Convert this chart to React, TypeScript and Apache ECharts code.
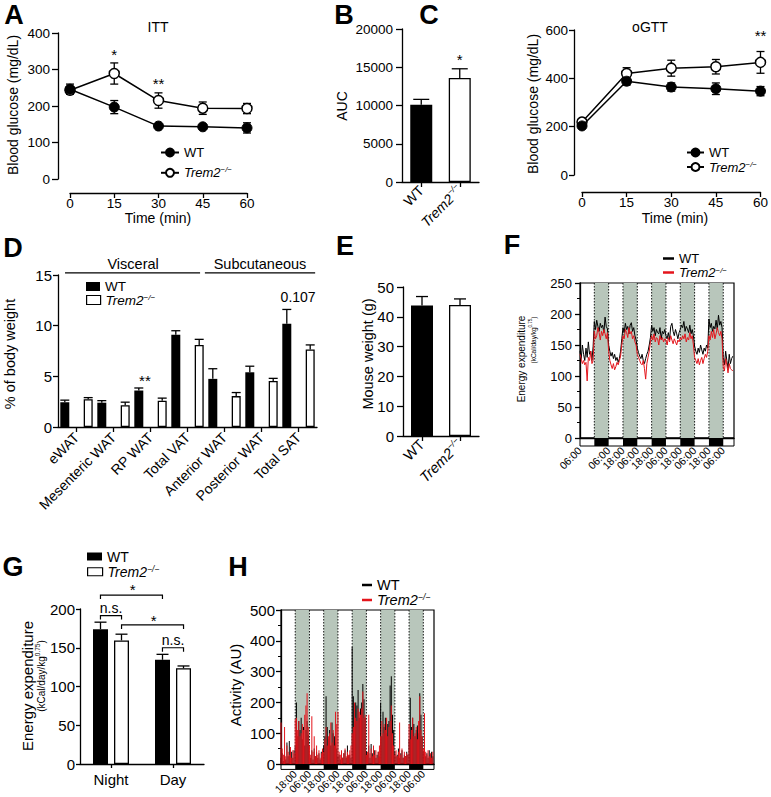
import React, { useEffect, useRef } from 'react';
import * as echarts from 'echarts';

const FONT = '"Liberation Sans", Arial, Helvetica, sans-serif';
const BLACK = '#000';
const RED = '#e4151c';
const NIGHT_GRAY = '#b8c6bb';
const LW = 1.3;

// ---------- A: ITT ----------
const ittTime = [0, 15, 30, 45, 60];
const ittWT = [246, 197, 145, 143, 140];
const ittWTErr = [14, 18, 5, 5, 14];
const ittKO = [243, 289, 215, 194, 193];
const ittKOErr = [8, 29, 21, 17, 14];
const ittSig = [{ x: 15, y: 340, t: '*' }, { x: 30, y: 263, t: '**' }];

// ---------- B: AUC ----------
const groups = ['WT', 'Trem2'];
const aucValues = [10100, 13600];
const aucErr = [700, 1200];
const aucSig = [{ x: 1, y: 15950, t: '*' }];

// ---------- C: oGTT ----------
const gttTime = [0, 15, 30, 45, 60];
const gttWT = [203, 388, 364, 357, 347];
const gttWTErr = [6, 16, 17, 24, 19];
const gttKO = [219, 420, 442, 448, 466];
const gttKOErr = [6, 24, 33, 30, 45];
const gttSig = [{ x: 60, y: 578, t: '**' }];

// ---------- D: fat depots ----------
const depots = ['eWAT', 'Mesenteric WAT', 'RP WAT', 'Total VAT', 'Anterior WAT', 'Posterior WAT', 'Total SAT'];
const depotWT = [2.45, 2.4, 3.6, 9.1, 4.75, 5.4, 10.2];
const depotWTErr = [0.2, 0.2, 0.25, 0.4, 1.0, 0.6, 1.4];
const depotKO = [2.75, 2.15, 2.6, 8.1, 3.05, 4.55, 7.65];
const depotKOErr = [0.15, 0.3, 0.25, 0.55, 0.35, 0.25, 0.45];
const depotSig = [
  { x: 1.85, y: 4.6, t: '**' },
  { x: 5.99, y: 12.8, t: '0.107', size: 14 },
  { x: -0.31, x2: 3.34, y: 15.2 },
  { x: 3.47, x2: 6.45, y: 15.2 },
  { x: 1.53, y: 16.1, t: 'Visceral', size: 14.5 },
  { x: 4.96, y: 16.1, t: 'Subcutaneous', size: 14.5 },
];

// ---------- E: body weight ----------
const weightValues = [43.8, 44.0];
const weightErr = [3.0, 2.0];

// ---------- G: energy expenditure by period ----------
const periods = ['Night', 'Day'];
const eeWT = [174, 134.5];
const eeWTErr = [9, 7];
const eeKO = [159.5, 123.5];
const eeKOErr = [8, 3];
const eeSig = [
  { x: -0.17, x2: 0.17, y: 191.5, drop: 4 },
  { x: 0, y: 201, t: 'n.s.', size: 14 },
  { x: -0.17, x2: 0.83, y: 218, drop: 4 },
  { x: 0.35, y: 225, t: '*' },
  { x: 0.17, x2: 1.17, y: 179.5, drop: 4 },
  { x: 0.69, y: 185, t: '*' },
  { x: 0.83, x2: 1.17, y: 150, drop: 4 },
  { x: 1, y: 160, t: 'n.s.', size: 14 },
];

// ---------- F / H: hourly time courses (t = hours from 06:00) ----------
const nights = [[12, 24], [36, 48], [60, 72], [84, 96], [108, 120]];
const clockLabels = ['06:00', '18:00'];
const eeHourlyWT = [
  140, 128, 150, 135, 125, 145, 130, 155, 135, 140, 125, 148,
  188, 175, 190, 180, 172, 185, 178, 182, 170, 195, 180, 176,
  150, 140, 132, 138, 128, 135, 125, 130, 122, 128, 140, 160,
  178, 170, 185, 175, 180, 168, 182, 186, 172, 178, 165, 158,
  145, 138, 132, 128, 135, 125, 120, 128, 135, 140, 150, 162,
  182, 172, 178, 165, 175, 170, 168, 178, 160, 172, 168, 175,
  165, 160, 170, 158, 180, 185, 172, 165, 175, 168, 160, 170,
  175, 182, 178, 188, 172, 180, 176, 170, 182, 168, 175, 165,
  148, 140, 135, 145, 138, 150, 142, 135, 145, 140, 150, 145,
  192, 178, 185, 172, 180, 176, 190, 175, 198, 182, 188, 178,
  130, 118, 140, 125, 112, 135, 120, 128, 132,
];
const eeHourlyKO = [
  135, 128, 120, 125, 118, 122, 92, 130, 125, 140, 120, 125,
  172, 160, 165, 178, 170, 158, 172, 165, 175, 168, 160, 170,
  140, 125, 118, 112, 120, 110, 115, 122, 118, 125, 132, 150,
  165, 160, 175, 170, 162, 178, 168, 172, 160, 165, 155, 150,
  135, 130, 125, 120, 118, 125, 112, 95, 120, 130, 140, 155,
  165, 158, 168, 155, 162, 160, 150, 165, 158, 162, 155, 160,
  158, 150, 162, 155, 165, 158, 152, 160, 155, 150, 158, 155,
  162, 158, 165, 160, 168, 155, 162, 158, 170, 160, 165, 150,
  130, 125, 120, 128, 118, 125, 130, 120, 128, 135, 130, 140,
  165, 158, 172, 162, 175, 160, 168, 178, 170, 165, 172, 160,
  115, 108, 128, 118, 105, 120, 112, 110, 108,
];
const actHourlyWT = [
  20, 35, 10, 30, 15, 70, 25, 75, 10, 40, 20, 45,
  60, 200, 90, 140, 110, 150, 80, 120, 60, 110, 140, 95,
  30, 20, 45, 15, 50, 25, 40, 20, 35, 15, 40, 30,
  60, 90, 220, 120, 80, 110, 60, 135, 100, 90, 70, 50,
  25, 30, 15, 40, 20, 35, 45, 20, 60, 25, 30, 20,
  380, 220, 140, 200, 190, 240, 150, 180, 200, 260, 210, 150,
  40, 30, 60, 20, 65, 35, 25, 45, 20, 30, 40, 25,
  200, 90, 170, 120, 150, 100, 130, 140, 255, 285, 160, 110,
  40, 25, 30, 50, 20, 35, 45, 20, 30, 25, 40, 30,
  80, 215, 120, 150, 130, 90, 110, 125, 100, 230, 160, 90,
  40, 30, 25, 35, 20, 45, 30, 40, 25,
];
const actHourlyKO = [
  135, 50, 30, 120, 25, 60, 40, 30, 55, 20, 45, 35,
  145, 150, 110, 140, 90, 100, 130, 110, 160, 190, 230, 120,
  60, 30, 155, 40, 90, 25, 60, 30, 45, 20, 35, 50,
  40, 80, 120, 60, 90, 100, 135, 70, 110, 60, 170, 130,
  170, 40, 30, 45, 20, 35, 50, 25, 40, 30, 45, 60,
  100, 120, 200, 150, 140, 180, 170, 160, 180, 235, 150, 160,
  30, 40, 160, 35, 50, 25, 60, 30, 45, 20, 40, 60,
  90, 140, 100, 130, 110, 150, 90, 120, 140, 190, 100, 60,
  30, 45, 25, 40, 135, 30, 50, 20, 40, 25, 35, 30,
  130, 80, 110, 150, 90, 100, 120, 80, 140, 220, 110, 90,
  50, 165, 40, 30, 45, 25, 35, 20, 40,
];

// ---------- helpers ----------
const KO_RICH = '{i|Trem2}{s|−/−}';
function rich(size: number, lh?: number) {
  const l = lh ?? size * 1.2;
  return {
    n: { fontSize: size, fontFamily: FONT, color: BLACK, lineHeight: l },
    i: { fontSize: size, fontFamily: FONT, color: BLACK, fontStyle: 'italic', lineHeight: l },
    s: { fontSize: size * 0.6, fontFamily: FONT, color: BLACK, fontStyle: 'italic', verticalAlign: 'top', lineHeight: l },
  };
}
const koFmt = (v: string) => (v === 'WT' || v.endsWith('WT') ? '{n|WT}' : KO_RICH);

function valueAxis(grid: number, min: number, max: number, interval: number, o: any = {}) {
  return {
    type: 'value', gridIndex: grid, min, max, interval, show: o.show !== false,
    offset: o.offset ?? 0,
    axisLine: { show: o.line !== false, onZero: false, lineStyle: { color: BLACK, width: LW } },
    axisTick: { show: o.ticks !== false, length: o.tick ?? 5, lineStyle: { color: BLACK, width: LW } },
    minorTick: o.minor ? { show: true, splitNumber: 2, length: 3, lineStyle: { color: BLACK, width: 1 } } : { show: false },
    axisLabel: {
      show: o.labels !== false, fontSize: o.fontSize ?? 13.5, color: BLACK, fontFamily: FONT,
      margin: o.margin ?? 8, rotate: o.rotate ?? 0, formatter: o.formatter ?? ((v: number) => String(v)),
      showMinLabel: true, hideOverlap: false,
    },
    splitLine: { show: false },
  };
}
function catAxis(grid: number, data: string[], o: any = {}) {
  const label: any = {
    interval: 0, rotate: o.rotate ?? 0, fontSize: o.fontSize ?? 14, fontFamily: FONT, color: BLACK,
    margin: o.margin ?? 6,
  };
  if (o.formatter) label.formatter = o.formatter;
  if (o.rich) label.rich = o.rich;
  return {
    type: 'category', gridIndex: grid, data,
    axisLine: { show: true, onZero: false, lineStyle: { color: BLACK, width: LW } },
    axisTick: { show: true, alignWithLabel: true, length: o.tick ?? 5, lineStyle: { color: BLACK, width: LW } },
    axisLabel: label,
    splitLine: { show: false },
  };
}

function errSeries(xi: number, yi: number, data: number[][], o: { offset?: number; cap: number; up?: boolean }) {
  return {
    type: 'custom', xAxisIndex: xi, yAxisIndex: yi, clip: false, silent: true, z: 3,
    data,
    renderItem: (params: any, api: any) => {
      const x = api.value(0), v = api.value(1), e = api.value(2);
      const top = api.coord([x, v + e]);
      const bot = api.coord([x, o.up ? v : v - e]);
      const cx = top[0] + (o.offset ?? 0);
      const hw = o.cap / 2;
      const st = { stroke: BLACK, lineWidth: LW };
      const children: any[] = [
        { type: 'line', shape: { x1: cx, y1: top[1], x2: cx, y2: bot[1] }, style: st },
        { type: 'line', shape: { x1: cx - hw, y1: top[1], x2: cx + hw, y2: top[1] }, style: st },
      ];
      if (!o.up) children.push({ type: 'line', shape: { x1: cx - hw, y1: bot[1], x2: cx + hw, y2: bot[1] }, style: st });
      return { type: 'group', children };
    },
  };
}

type Ann = { x: number; y: number; x2?: number; drop?: number; t?: string; size?: number };
function annSeries(xi: number, yi: number, items: Ann[], cat: boolean) {
  return {
    type: 'custom', xAxisIndex: xi, yAxisIndex: yi, clip: false, silent: true, z: 6,
    data: items.map((it) => [cat ? 0 : it.x, it.y]),
    renderItem: (params: any, api: any) => {
      const it = items[params.dataIndex];
      const pos = (x: number, y: number) => {
        if (cat) {
          const p = api.coord([0, y]);
          const w = api.size([1, 0])[0];
          return [p[0] + x * w, p[1]];
        }
        return api.coord([x, y]);
      };
      if (it.x2 !== undefined) {
        const a = pos(it.x, it.y), b = pos(it.x2, it.y);
        const d = it.drop ?? 0;
        return {
          type: 'polyline',
          shape: { points: [[a[0], a[1] + d], a, b, [b[0], b[1] + d]] },
          style: { stroke: BLACK, lineWidth: 1.2, fill: null },
        };
      }
      const p = pos(it.x, it.y);
      return {
        type: 'text', x: p[0], y: p[1],
        style: { text: it.t, fontSize: it.size ?? 15, fontFamily: FONT, fill: BLACK, align: 'center', verticalAlign: 'middle' },
      };
    },
  };
}

function bandSeries(xi: number, yi: number, fill: string, dotted: boolean) {
  return {
    type: 'custom', xAxisIndex: xi, yAxisIndex: yi, silent: true, z: 1, clip: true,
    data: nights.map((n) => [n[0], n[1]]),
    renderItem: (params: any, api: any) => {
      const cs = params.coordSys;
      const x1 = api.coord([api.value(0), 0])[0];
      const x2 = api.coord([api.value(1), 0])[0];
      const children: any[] = [{ type: 'rect', shape: { x: x1, y: cs.y, width: x2 - x1, height: cs.height }, style: { fill } }];
      if (dotted) {
        for (const x of [x1, x2]) {
          children.push({ type: 'line', shape: { x1: x, y1: cs.y, x2: x, y2: cs.y + cs.height }, style: { stroke: BLACK, lineWidth: 0.9, lineDash: [1.5, 1.5] } });
        }
      }
      return { type: 'group', children };
    },
  };
}

const clockFmt = (skipFirst: boolean) => (v: number) => {
  if (v % 12 !== 0) return '';
  if (skipFirst && v === 0) return '';
  return clockLabels[Math.round(v / 12) % 2];
};

function legendItem(name: string, left: number, top: number, o: any) {
  const l: any = {
    data: [name], left, top, padding: 0, itemGap: 0, selectedMode: false,
    itemWidth: o.w, itemHeight: o.h,
    formatter: koFmt,
    textStyle: { fontSize: o.size, fontFamily: FONT, color: BLACK, rich: rich(o.size, o.lh) },
  };
  if (o.icon) l.icon = o.icon;
  if (o.itemStyle) l.itemStyle = o.itemStyle;
  return l;
}

function T(x: number, y: number, text: string, size: number, o: any = {}) {
  const style: any = {
    text, fontSize: size, fontFamily: FONT, fontWeight: o.bold ? 'bold' : 'normal', fill: BLACK,
    align: 'center', verticalAlign: 'middle',
  };
  if (o.rich) style.rich = o.rich;
  if (o.lineHeight) style.lineHeight = o.lineHeight;
  return { type: 'text', x, y, rotation: o.rot ?? 0, silent: true, z: 10, style };
}

const whiteBar = { color: '#fff', borderColor: BLACK, borderWidth: LW };
const blackBar = { color: BLACK };

function buildOption(): any {
  const R = Math.PI / 2;
  const supRich = (s: number) => ({ sup: { fontSize: s, fontFamily: FONT, verticalAlign: 'top', lineHeight: s * 2.2 } });
  return {
    animation: false,
    backgroundColor: '#fff',
    textStyle: { fontFamily: FONT, color: BLACK },
    grid: [
      { left: 70, top: 33, width: 177, height: 146 }, // A
      { left: 402, top: 29, width: 77, height: 153 }, // B
      { left: 582, top: 30, width: 181, height: 145 }, // C
      { left: 58, top: 275, width: 259, height: 152 }, // D
      { left: 403, top: 287, width: 76, height: 149 }, // E
      { left: 580, top: 283, width: 154, height: 155, show: true, borderColor: BLACK, borderWidth: 1.2 }, // F
      { left: 580, top: 438, width: 154, height: 8, show: true, borderColor: BLACK, borderWidth: 1, backgroundColor: '#fff' }, // F strip
      { left: 80, top: 609, width: 124, height: 155 }, // G
      { left: 281, top: 610, width: 153, height: 154, show: true, borderColor: BLACK, borderWidth: 1.2 }, // H
      { left: 281, top: 764, width: 153, height: 8, show: true, borderColor: BLACK, borderWidth: 1, backgroundColor: '#fff' }, // H strip
    ],
    xAxis: [
      valueAxis(0, 0, 60, 15, { offset: 14, margin: 3, tick: 5 }),
      catAxis(1, groups, { rotate: 45, formatter: koFmt, rich: rich(14), margin: 6 }),
      valueAxis(2, 0, 60, 15, { offset: 17, margin: 3, tick: 5 }),
      catAxis(3, depots, { rotate: 45, fontSize: 14, margin: 8 }),
      catAxis(4, groups, { rotate: 45, formatter: koFmt, rich: rich(14.5), margin: 6 }),
      valueAxis(5, 0, 129, 12, { labels: false, ticks: false }),
      valueAxis(6, 0, 129, 12, { line: false, ticks: false, rotate: 45, fontSize: 10.5, margin: 3, formatter: clockFmt(false) }),
      catAxis(7, periods, { fontSize: 15, margin: 8, tick: 4 }),
      valueAxis(8, 0, 129, 12, { labels: false, ticks: false }),
      valueAxis(9, 0, 129, 12, { line: false, ticks: false, rotate: 45, fontSize: 10.5, margin: 3, formatter: clockFmt(true) }),
    ],
    yAxis: [
      valueAxis(0, 0, 400, 100, { offset: 12, margin: 8, tick: 6 }),
      valueAxis(1, 0, 20000, 5000, { margin: 9, tick: 6 }),
      valueAxis(2, 0, 600, 200, { offset: 8, margin: 6, tick: 5 }),
      valueAxis(3, 0, 15, 5, { fontSize: 15, margin: 6, tick: 5 }),
      valueAxis(4, 0, 50, 10, { fontSize: 15, margin: 9, tick: 6 }),
      valueAxis(5, 0, 250, 50, { fontSize: 13, margin: 8, tick: 5, minor: true }),
      valueAxis(6, 0, 1, 1, { show: false }),
      valueAxis(7, 0, 200, 50, { fontSize: 15, margin: 5, tick: 4 }),
      valueAxis(8, 0, 500, 100, { fontSize: 15, margin: 6, tick: 5, minor: true }),
      valueAxis(9, 0, 1, 1, { show: false }),
    ],
    legend: [
      legendItem('A_WT', 160, 146, { w: 18, h: 10, size: 13 }),
      legendItem('A_KO', 160, 165, { w: 18, h: 10, size: 13 }),
      legendItem('C_WT', 686, 146, { w: 17, h: 10, size: 13, lh: 14 }),
      legendItem('C_KO', 686, 160, { w: 17, h: 10, size: 13, lh: 14 }),
      legendItem('D_WT', 86, 279.5, { w: 14, h: 9, size: 13.5, lh: 13, icon: 'rect', itemStyle: { color: BLACK, borderWidth: 0 } }),
      legendItem('D_KO', 86, 293, { w: 14, h: 9, size: 13.5, lh: 13, icon: 'rect', itemStyle: { color: '#fff', borderColor: BLACK, borderWidth: 1.2 } }),
      legendItem('F_WT', 663, 252, { w: 11, h: 2.5, size: 13, lh: 13, icon: 'rect', itemStyle: { color: BLACK, borderWidth: 0 } }),
      legendItem('F_KO', 663, 266, { w: 11, h: 2.5, size: 13, lh: 13, icon: 'rect', itemStyle: { color: RED, borderWidth: 0 } }),
      legendItem('G_WT', 87, 549.5, { w: 15, h: 8, size: 14, lh: 14.5, icon: 'rect', itemStyle: { color: BLACK, borderWidth: 0 } }),
      legendItem('G_KO', 87, 564.5, { w: 15, h: 8, size: 14, lh: 14.5, icon: 'rect', itemStyle: { color: '#fff', borderColor: BLACK, borderWidth: 1.2 } }),
      legendItem('H_WT', 362, 577.5, { w: 10, h: 2.5, size: 14.5, lh: 14.5, icon: 'rect', itemStyle: { color: BLACK, borderWidth: 0 } }),
      legendItem('H_KO', 362, 592.5, { w: 10, h: 2.5, size: 14.5, lh: 14.5, icon: 'rect', itemStyle: { color: RED, borderWidth: 0 } }),
    ],
    series: [
      // ---- A ----
      errSeries(0, 0, ittTime.map((t, i) => [t, ittKO[i], ittKOErr[i]]), { cap: 8 }),
      errSeries(0, 0, ittTime.map((t, i) => [t, ittWT[i], ittWTErr[i]]), { cap: 8 }),
      {
        type: 'line', name: 'A_KO', xAxisIndex: 0, yAxisIndex: 0, z: 4,
        data: ittTime.map((t, i) => [t, ittKO[i]]),
        symbol: 'circle', symbolSize: 10, lineStyle: { color: BLACK, width: 1.5 },
        itemStyle: { color: '#fff', borderColor: BLACK, borderWidth: 1.5 },
      },
      {
        type: 'line', name: 'A_WT', xAxisIndex: 0, yAxisIndex: 0, z: 5,
        data: ittTime.map((t, i) => [t, ittWT[i]]),
        symbol: 'circle', symbolSize: 10, lineStyle: { color: BLACK, width: 1.5 },
        itemStyle: { color: BLACK, borderColor: BLACK, borderWidth: 1 },
      },
      annSeries(0, 0, ittSig, false),
      // ---- B ----
      {
        type: 'bar', xAxisIndex: 1, yAxisIndex: 1, barWidth: 22, z: 2,
        data: aucValues.map((v, i) => ({ value: v, itemStyle: i === 0 ? blackBar : whiteBar })),
      },
      errSeries(1, 1, aucValues.map((v, i) => [i, v, aucErr[i]]), { cap: 16, up: true }),
      annSeries(1, 1, aucSig, true),
      // ---- C ----
      errSeries(2, 2, gttTime.map((t, i) => [t, gttKO[i], gttKOErr[i]]), { cap: 8 }),
      errSeries(2, 2, gttTime.map((t, i) => [t, gttWT[i], gttWTErr[i]]), { cap: 8 }),
      {
        type: 'line', name: 'C_KO', xAxisIndex: 2, yAxisIndex: 2, z: 4,
        data: gttTime.map((t, i) => [t, gttKO[i]]),
        symbol: 'circle', symbolSize: 10, lineStyle: { color: BLACK, width: 1.5 },
        itemStyle: { color: '#fff', borderColor: BLACK, borderWidth: 1.5 },
      },
      {
        type: 'line', name: 'C_WT', xAxisIndex: 2, yAxisIndex: 2, z: 5,
        data: gttTime.map((t, i) => [t, gttWT[i]]),
        symbol: 'circle', symbolSize: 10, lineStyle: { color: BLACK, width: 1.5 },
        itemStyle: { color: BLACK, borderColor: BLACK, borderWidth: 1 },
      },
      annSeries(2, 2, gttSig, false),
      // ---- D ----
      { type: 'bar', name: 'D_WT', xAxisIndex: 3, yAxisIndex: 3, barWidth: 9, barGap: '160%', z: 2, itemStyle: blackBar, data: depotWT },
      { type: 'bar', name: 'D_KO', xAxisIndex: 3, yAxisIndex: 3, barWidth: 9, barGap: '160%', z: 2, itemStyle: whiteBar, data: depotKO },
      errSeries(3, 3, depotWT.map((v, i) => [i, v, depotWTErr[i]]), { cap: 9, up: true, offset: -11.7 }),
      errSeries(3, 3, depotKO.map((v, i) => [i, v, depotKOErr[i]]), { cap: 9, up: true, offset: 11.7 }),
      annSeries(3, 3, depotSig, true),
      // ---- E ----
      {
        type: 'bar', xAxisIndex: 4, yAxisIndex: 4, barWidth: 22, z: 2,
        data: weightValues.map((v, i) => ({ value: v, itemStyle: i === 0 ? blackBar : whiteBar })),
      },
      errSeries(4, 4, weightValues.map((v, i) => [i, v, weightErr[i]]), { cap: 12, up: true }),
      // ---- F ----
      bandSeries(5, 5, NIGHT_GRAY, true),
      {
        type: 'line', name: 'F_WT', xAxisIndex: 5, yAxisIndex: 5, z: 3, symbol: 'none',
        lineStyle: { color: BLACK, width: 1 }, itemStyle: { color: BLACK },
        data: eeHourlyWT.map((v, i) => [i, v]),
      },
      {
        type: 'line', name: 'F_KO', xAxisIndex: 5, yAxisIndex: 5, z: 4, symbol: 'none',
        lineStyle: { color: RED, width: 1 }, itemStyle: { color: RED },
        data: eeHourlyKO.map((v, i) => [i, v]),
      },
      bandSeries(6, 6, BLACK, false),
      // ---- G ----
      { type: 'bar', name: 'G_WT', xAxisIndex: 7, yAxisIndex: 7, barWidth: 15, barGap: '40%', z: 2, itemStyle: blackBar, data: eeWT },
      { type: 'bar', name: 'G_KO', xAxisIndex: 7, yAxisIndex: 7, barWidth: 15, barGap: '40%', z: 2, itemStyle: whiteBar, data: eeKO },
      errSeries(7, 7, eeWT.map((v, i) => [i, v, eeWTErr[i]]), { cap: 12, up: true, offset: -10.5 }),
      errSeries(7, 7, eeKO.map((v, i) => [i, v, eeKOErr[i]]), { cap: 12, up: true, offset: 10.5 }),
      annSeries(7, 7, eeSig, true),
      // ---- H ----
      bandSeries(8, 8, NIGHT_GRAY, true),
      {
        type: 'bar', name: 'H_WT', xAxisIndex: 8, yAxisIndex: 8, z: 3, barWidth: 0.9, barGap: '-100%',
        itemStyle: { color: BLACK }, data: actHourlyWT.map((v, i) => [i, v]),
      },
      {
        type: 'bar', name: 'H_KO', xAxisIndex: 8, yAxisIndex: 8, z: 3, barWidth: 0.9, barGap: '-100%',
        itemStyle: { color: RED }, data: actHourlyKO.map((v, i) => [i, v]),
      },
      bandSeries(9, 9, BLACK, false),
    ],
    graphic: [
      // panel letters
      T(14, 15, 'A', 27, { bold: true }),
      T(344, 15, 'B', 27, { bold: true }),
      T(429, 15, 'C', 27, { bold: true }),
      T(13, 248, 'D', 27, { bold: true }),
      T(345, 246, 'E', 27, { bold: true }),
      T(512, 245, 'F', 27, { bold: true }),
      T(13, 567, 'G', 27, { bold: true }),
      T(238, 567, 'H', 27, { bold: true }),
      // titles
      T(158, 27, 'ITT', 14),
      T(650, 27, 'oGTT', 14),
      T(158, 218, 'Time (min)', 14),
      T(675, 218, 'Time (min)', 14),
      // y-axis titles
      T(13, 105, 'Blood glucose (mg/dL)', 14, { rot: R }),
      T(342, 106, 'AUC', 14, { rot: R }),
      T(533, 104, 'Blood glucose (mg/dL)', 14, { rot: R }),
      T(10, 354, '% of body weight', 14.5, { rot: R }),
      T(368, 354, 'Mouse weight (g)', 14.5, { rot: R }),
      T(521, 359, 'Energy expenditure', 10, { rot: R }),
      T(533, 340, '(kCal/day/kg{sup|0.75})', 6.5, { rot: R, rich: supRich(4.5), lineHeight: 9 }),
      T(27, 686, 'Energy expenditure', 15, { rot: R }),
      T(41.5, 676, '(kCal/day/kg{sup|0.75})', 10, { rot: R, rich: supRich(6.5), lineHeight: 12 }),
      T(235, 685, 'Activity (AU)', 15, { rot: R }),
    ],
  };
}

export default function App() {
  const ref = useRef<HTMLDivElement>(null);
  useEffect(() => {
    const chart = echarts.init(ref.current!, null, { renderer: 'svg' });
    chart.setOption(buildOption());
    return () => chart.dispose();
  }, []);
  return (
    <div
      ref={ref}
      style={{ position: 'absolute', left: 0, top: 0, width: 771, height: 797, background: '#fff' }}
    />
  );
}
